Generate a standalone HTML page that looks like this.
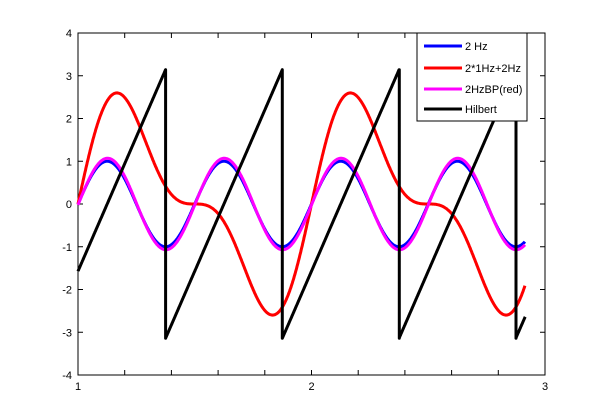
<!DOCTYPE html>
<html><head><style>body{margin:0;background:#fff}svg{display:block}text{font-family:"Liberation Sans",sans-serif;font-size:11px}</style></head>
<body>
<svg id="s" width="601" height="420" xmlns="http://www.w3.org/2000/svg">
<rect x="0" y="0" width="601" height="420" fill="#fff"/>
<rect x="78" y="33" width="467" height="342" fill="#fff" stroke="#000" stroke-width="1"/>
<g id="ticks" stroke="#000" stroke-width="1"></g>
<g id="lab" font-size="11"></g>
<g id="ser" fill="none" stroke-width="3" stroke-linejoin="round"></g>
<rect x="417" y="33" width="110" height="88" fill="#fff" stroke="#000"/>
<g stroke-width="3">
<line x1="424" y1="46" x2="462" y2="46" stroke="#0000ff"/>
<line x1="424" y1="68" x2="462" y2="68" stroke="#ff0000"/>
<line x1="424" y1="89" x2="462" y2="89" stroke="#ff00ff"/>
<line x1="424" y1="109" x2="462" y2="109" stroke="#000"/>
</g>
<text x="465" y="50">2 Hz</text>
<text x="465" y="72">2*1Hz+2Hz</text>
<text x="465" y="93">2HzBP(red)</text>
<text x="465" y="113">Hilbert</text>
</svg>
<script>
var X=function(t){return 78+(t-1)*233.5},Y=function(v){return 204-v*42.75};
var tk=document.getElementById('ticks'),lb=document.getElementById('lab'),h='',l='';
for(var i=0;i<=10;i++){var x=X(1+i*0.2);h+='<line x1="'+x+'" y1="375" x2="'+x+'" y2="370"/><line x1="'+x+'" y1="33" x2="'+x+'" y2="38"/>';}
for(var v=-4;v<=4;v++){var y=Y(v);h+='<line x1="78" y1="'+y+'" x2="83" y2="'+y+'"/><line x1="545" y1="'+y+'" x2="540" y2="'+y+'"/>';l+='<text x="72" y="'+(y+4)+'" text-anchor="end">'+v+'</text>';}
for(var k=1;k<=3;k++)l+='<text x="'+X(k)+'" y="390" text-anchor="middle">'+k+'</text>';
tk.innerHTML=h;lb.innerHTML=l;
function path(f,col){var d='';for(var t=0;t<=1.915;t+=0.002){d+=(d?'L':'M')+X(1+t).toFixed(1)+','+Y(f(t)).toFixed(1);}return '<path d="'+d+'" stroke="'+col+'"/>';}
var P=Math.PI,s='';
s+=path(function(t){return Math.sin(4*P*t)},'#0000ff');
s+=path(function(t){return 2*Math.sin(2*P*t)+Math.sin(4*P*t)},'#ff0000');
s+=path(function(t){return 1.07*Math.sin(4*P*t-0.02)},'#ff00ff');
var d='';var prev=null;
for(var t=0;t<=1.915;t+=0.001){var p=4*P*t-P/2;p=p-2*P*Math.floor((p+P)/(2*P));
if(prev!==null&&p<prev){d+='L'+X(1+t).toFixed(1)+','+Y(P).toFixed(1)+'L'+X(1+t).toFixed(1)+','+Y(-P).toFixed(1);}
d+=(d?'L':'M')+X(1+t).toFixed(1)+','+Y(p).toFixed(1);prev=p;}
s+='<path d="'+d+'" stroke="#000"/>';
document.getElementById('ser').innerHTML=s;
</script>
</body></html>
